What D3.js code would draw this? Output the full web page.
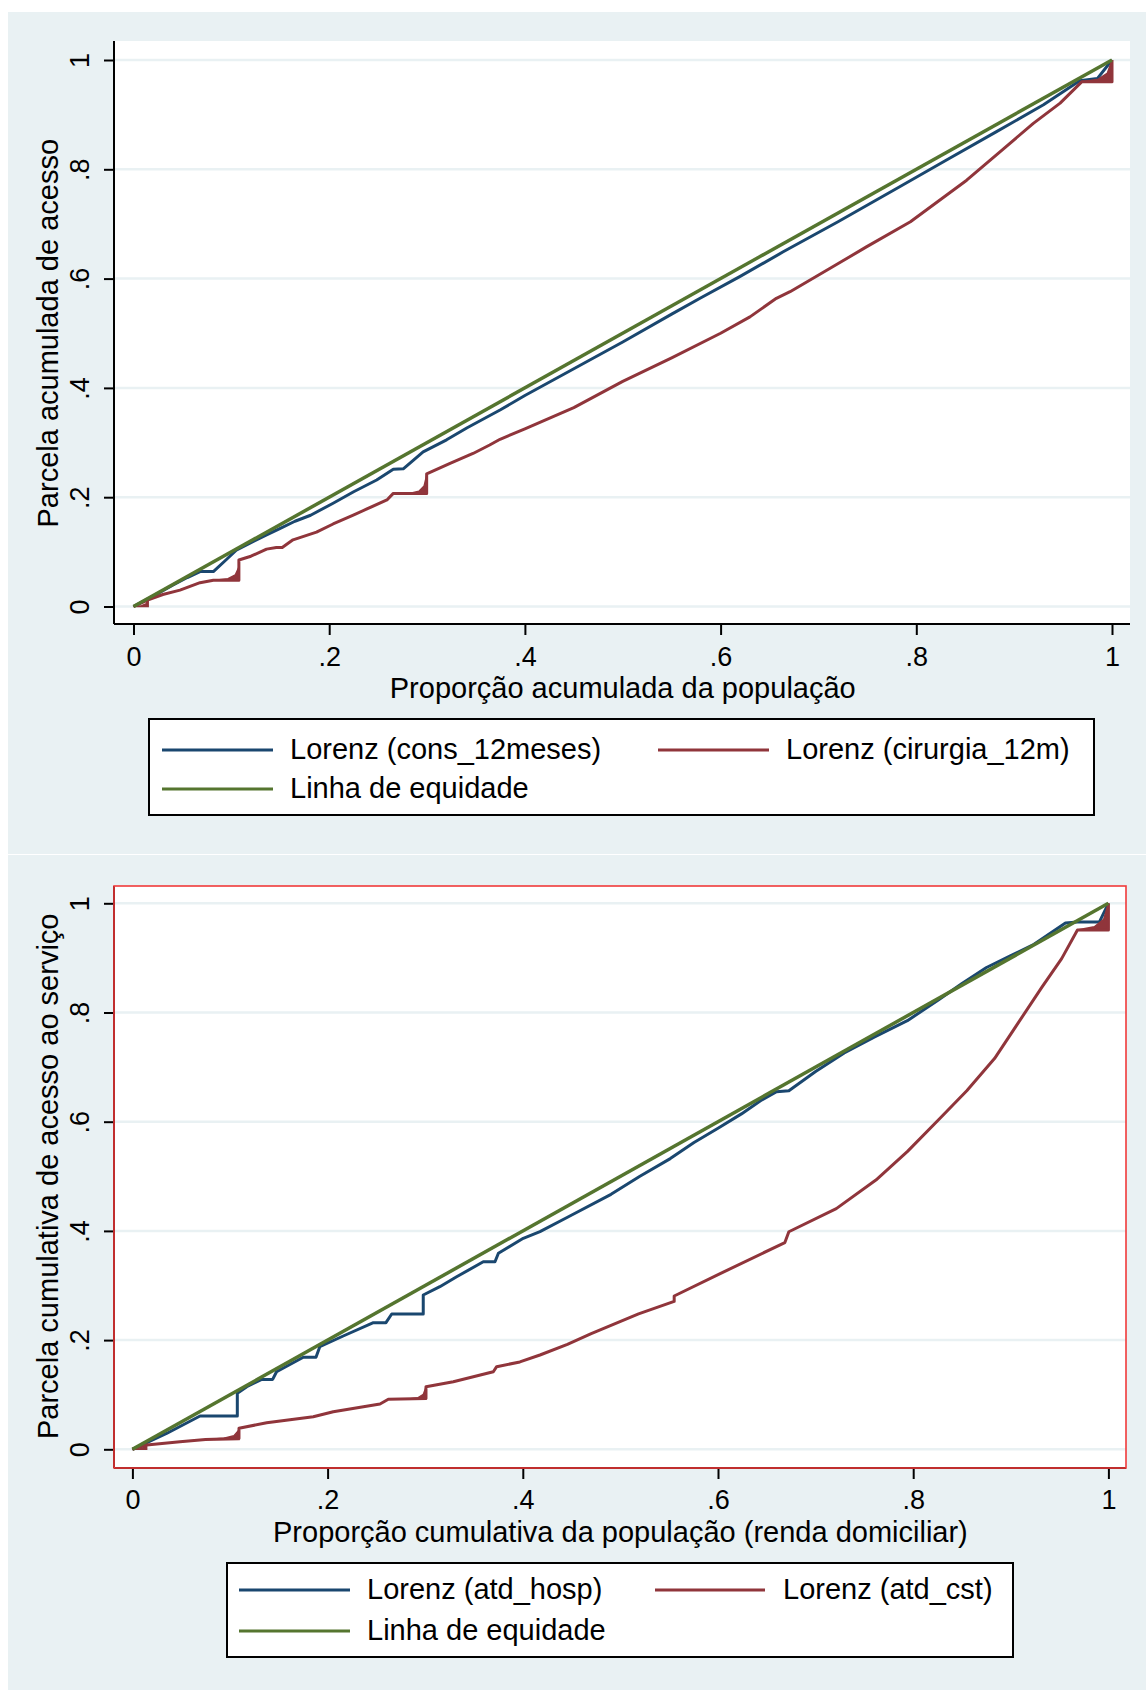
<!DOCTYPE html>
<html>
<head>
<meta charset="utf-8">
<script src="https://cdn.jsdelivr.net/npm/d3@7"></script>
<style>
  html, body { margin: 0; padding: 0; background: #ffffff; }
  svg { display: block; }
  text { font-family: "Liberation Sans", Arial, "DejaVu Sans", sans-serif; fill: #000; }
</style>
</head>
<body>
<svg id="chart" width="1146" height="1690"></svg>
<script>
// ---------------- DATA ----------------
const tickValues = [0, 0.2, 0.4, 0.6, 0.8, 1];
const tickLabels = ["0", ".2", ".4", ".6", ".8", "1"];

// Panel 1
const p1Title = { x: "Proporção acumulada da população", y: "Parcela acumulada de acesso" };
const p1Names = ["Lorenz (cons_12meses)", "Lorenz (cirurgia_12m)", "Linha de equidade"];
const p1Blue = [[0,0],[0.02,0.019],[0.04,0.039],[0.055,0.053],[0.068,0.064],[0.0816,0.064],[0.095,0.086],
  [0.105,0.103],[0.12,0.117],[0.136,0.131],[0.15,0.143],[0.165,0.156],[0.181,0.167],[0.204,0.189],
  [0.225,0.21],[0.2485,0.2315],[0.2655,0.251],[0.2757,0.252],[0.296,0.283],[0.32,0.305],[0.341,0.327],
  [0.3746,0.3596],[0.4,0.386],[0.45,0.435],[0.5,0.484],[0.55,0.535],[0.579,0.564],[0.62,0.604],
  [0.664,0.649],[0.72,0.704],[0.783,0.768],[0.83,0.816],[0.882,0.869],[0.93,0.918],[0.967,0.962],
  [0.985,0.966],[1,1]];
const p1Red = [[0,0],[0.015,0.012],[0.03,0.022],[0.0475,0.030],[0.068,0.0436],[0.0816,0.048],[0.1077,0.048],
  [0.1077,0.085],[0.12,0.092],[0.136,0.105],[0.146,0.108],[0.152,0.108],[0.163,0.122],[0.187,0.136],
  [0.204,0.151],[0.2246,0.167],[0.238,0.178],[0.259,0.195],[0.2655,0.207],[0.2996,0.207],[0.2996,0.2425],
  [0.3235,0.262],[0.347,0.280],[0.364,0.2955],[0.3746,0.306],[0.4,0.325],[0.45,0.364],[0.5,0.412],
  [0.55,0.455],[0.6,0.5],[0.63,0.53],[0.657,0.564],[0.671,0.576],[0.715,0.622],[0.749,0.658],
  [0.794,0.704],[0.8515,0.78],[0.8855,0.832],[0.9196,0.884],[0.947,0.921],[0.969,0.96],[1,0.96],[1,1]];
// tie wedges: [x0, x1, yBottom, yTop]
const p1RedWedges = [[0,0.015,0,0.012],[0.083,0.1077,0.048,0.072],[0.282,0.2996,0.207,0.24],[0.969,1,0.96,1]];
const p1Equal = [[0,0],[1,1]];

// Panel 2
const p2Title = { x: "Proporção cumulativa da população (renda domiciliar)", y: "Parcela cumulativa de acesso ao serviço" };
const p2Names = ["Lorenz (atd_hosp)", "Lorenz (atd_cst)", "Linha de equidade"];
const p2Blue = [[0,0],[0.035,0.029],[0.0693,0.061],[0.1075,0.061],[0.1075,0.1026],[0.1172,0.1147],
  [0.1325,0.128],[0.1437,0.128],[0.1477,0.142],[0.1751,0.1685],[0.1881,0.1685],[0.192,0.188],
  [0.216,0.2075],[0.2469,0.2319],[0.2598,0.2319],[0.2657,0.2478],[0.298,0.2478],[0.298,0.2826],
  [0.315,0.2978],[0.3322,0.316],[0.3595,0.3434],[0.3715,0.3434],[0.375,0.359],[0.4005,0.3864],
  [0.4176,0.3987],[0.4458,0.425],[0.4904,0.467],[0.52,0.5],[0.5511,0.5324],[0.5754,0.5619],
  [0.6,0.588],[0.624,0.6143],[0.645,0.64],[0.66,0.655],[0.6726,0.6568],[0.7,0.692],[0.7293,0.726],
  [0.76,0.755],[0.794,0.785],[0.8265,0.8237],[0.85,0.853],[0.8751,0.8824],[0.9,0.904],[0.9238,0.9249],
  [0.956,0.9641],[0.9683,0.9656],[0.9907,0.9656],[1,1]];
const p2Red = [[0,0],[0.0146,0.0079],[0.0487,0.0139],[0.075,0.018],[0.1092,0.02],[0.1092,0.0385],
  [0.1376,0.0487],[0.1853,0.0597],[0.2058,0.0689],[0.2537,0.083],[0.2622,0.0916],[0.3008,0.093],
  [0.3008,0.1147],[0.3288,0.1238],[0.3698,0.1421],[0.3732,0.1513],[0.397,0.16],[0.4176,0.1727],
  [0.4457,0.1923],[0.4701,0.2119],[0.5186,0.248],[0.5551,0.2709],[0.5551,0.2808],[0.6038,0.3231],
  [0.6685,0.3787],[0.6726,0.3984],[0.7212,0.4408],[0.7618,0.4932],[0.7942,0.5456],[0.8265,0.6044],
  [0.8549,0.6568],[0.8833,0.7156],[0.9076,0.781],[0.9319,0.8465],[0.9521,0.8987],[0.9683,0.9511],
  [1,0.9511],[1,1]];
const p2RedWedges = [[0,0.0146,0,0.008],[0.075,0.1092,0.018,0.0354],[0.283,0.3008,0.092,0.1136],[0.968,1,0.9511,1]];
const p2Equal = [[0,0],[1,1]];

// ---------------- STYLE / LAYOUT ----------------
const BG = "#e9f1f3";
const GRID = "#e9f1f3";
const NAVY = "#1a476f", MAROON = "#90353b", GREEN = "#55752f";
const FS = 29;      // titles / legend
const FS_TICK = 27; // tick labels

const svg = d3.select("#chart");

function drawPanel(L, titles, names, blue, red, wedges, equal) {
  const g = svg.append("g");
  g.append("rect").attr("x", L.bg[0]).attr("y", L.bg[1]).attr("width", L.bg[2]).attr("height", L.bg[3]).attr("fill", BG);
  g.append("rect").attr("x", L.plot[0]).attr("y", L.plot[1]).attr("width", L.plot[2] - L.plot[0])
    .attr("height", L.plot[3] - L.plot[1]).attr("fill", "#ffffff");

  const x = d3.scaleLinear().domain([0, 1]).range(L.xr);
  const y = d3.scaleLinear().domain([0, 1]).range(L.yr);

  // gridlines
  g.selectAll(".grid").data(tickValues).enter().append("line")
    .attr("x1", L.plot[0]).attr("x2", L.plot[2])
    .attr("y1", d => y(d)).attr("y2", d => y(d))
    .attr("stroke", GRID).attr("stroke-width", 2.5);

  // series
  const line = d3.line().x(d => x(d[0])).y(d => y(d[1]));
  g.append("path").datum(blue).attr("d", line).attr("fill", "none").attr("stroke", NAVY)
    .attr("stroke-width", 3).attr("stroke-linejoin", "round");
  g.selectAll(".wedge").data(wedges).enter().append("path")
    .attr("d", w => {
      const [x0, x1, yb, yt] = w;
      const pts = [[x0, yb], [x0 + (x1 - x0) * 0.55, yb + (yt - yb) * 0.12],
                   [x0 + (x1 - x0) * 0.85, yb + (yt - yb) * 0.4], [x1, yt], [x1, yb]];
      return "M" + pts.map(p => x(p[0]) + "," + y(p[1])).join("L") + "Z";
    })
    .attr("fill", MAROON).attr("stroke", MAROON).attr("stroke-width", 1.5);
  g.append("path").datum(red).attr("d", line).attr("fill", "none").attr("stroke", MAROON)
    .attr("stroke-width", 3).attr("stroke-linejoin", "round");
  g.append("path").datum(equal).attr("d", line).attr("fill", "none").attr("stroke", GREEN)
    .attr("stroke-width", 3.5);

  // axes
  const xAxis = d3.axisBottom(x).tickValues(tickValues).tickFormat((d, i) => tickLabels[i])
    .tickSize(11).tickSizeOuter(0);
  const gx = g.append("g").attr("transform", `translate(0,${L.plot[3]})`).call(xAxis);
  gx.select(".domain").attr("d", `M${L.plot[0]},0H${L.plot[2]}`).attr("stroke", "#000").attr("stroke-width", 2);
  gx.selectAll(".tick line").attr("stroke", "#000").attr("stroke-width", 2);
  gx.selectAll(".tick text").attr("font-size", FS_TICK).attr("y", L.xLabBase - L.plot[3]).attr("dy", 0)
    .style("font-family", '"Liberation Sans", Arial, sans-serif');

  const yAxis = d3.axisLeft(y).tickValues(tickValues).tickFormat((d, i) => tickLabels[i])
    .tickSize(10).tickSizeOuter(0);
  const gy = g.append("g").attr("transform", `translate(${L.plot[0]},0)`).call(yAxis);
  gy.select(".domain").attr("d", `M0,${L.plot[1]}V${L.plot[3]}`).attr("stroke", "#000").attr("stroke-width", 2);
  gy.selectAll(".tick line").attr("stroke", "#000").attr("stroke-width", 2);
  gy.selectAll(".tick text").attr("font-size", FS_TICK).attr("x", null).attr("dy", null)
    .attr("text-anchor", "middle")
    .attr("transform", `translate(${L.yLabBase - L.plot[0]},0) rotate(-90)`)
    .style("font-family", '"Liberation Sans", Arial, sans-serif');
  g.selectAll(".domain").attr("fill", "none");

  if (L.redBorder) {
    g.append("rect").attr("x", L.plot[0]).attr("y", L.plot[1]).attr("width", L.plot[2] - L.plot[0])
      .attr("height", L.plot[3] - L.plot[1]).attr("fill", "none").attr("stroke", "#f03a3a").attr("stroke-width", 1.6);
  }

  // titles
  g.append("text").attr("x", (L.xr[0] + L.xr[1]) / 2).attr("y", L.xTitleBase).attr("text-anchor", "middle")
    .attr("font-size", FS).text(titles.x);
  g.append("text").attr("transform", `translate(${L.yTitleBase},${(L.yr[0] + L.yr[1]) / 2}) rotate(-90)`)
    .attr("text-anchor", "middle").attr("font-size", FS).text(titles.y);

  // legend
  const lg = L.legend;
  g.append("rect").attr("x", lg.box[0]).attr("y", lg.box[1]).attr("width", lg.box[2]).attr("height", lg.box[3])
    .attr("fill", "#ffffff").attr("stroke", "#000").attr("stroke-width", 2);
  const items = [
    { name: names[0], color: NAVY, col: 0, row: 0 },
    { name: names[1], color: MAROON, col: 1, row: 0 },
    { name: names[2], color: GREEN, col: 0, row: 1 }
  ];
  items.forEach(it => {
    const ly = lg.rows[it.row];
    const c = lg.cols[it.col];
    g.append("line").attr("x1", c[0]).attr("x2", c[1]).attr("y1", ly).attr("y2", ly)
      .attr("stroke", it.color).attr("stroke-width", 3);
    g.append("text").attr("x", c[2]).attr("y", ly + 9).attr("font-size", FS).text(it.name);
  });
}

drawPanel({
  bg: [8, 12, 1138, 842],
  plot: [114, 41, 1130, 624],
  xr: [133.5, 1112], yr: [606.5, 60],
  xLabBase: 666, yLabBase: 89, xTitleBase: 698, yTitleBase: 58,
  legend: { box: [149, 719, 945, 96], rows: [750, 789], cols: [[162, 273, 290], [658, 769, 786]] },
  redBorder: false
}, p1Title, p1Names, p1Blue, p1Red, p1RedWedges, p1Equal);

drawPanel({
  bg: [8, 855, 1138, 835],
  plot: [114, 886, 1126, 1468],
  xr: [132.4, 1108.4], yr: [1449.3, 903.3],
  xLabBase: 1509, yLabBase: 89, xTitleBase: 1542, yTitleBase: 58,
  legend: { box: [227, 1563, 786, 94], rows: [1590, 1631], cols: [[239, 350, 367], [655, 765, 783]] },
  redBorder: true
}, p2Title, p2Names, p2Blue, p2Red, p2RedWedges, p2Equal);
</script>
</body>
</html>
